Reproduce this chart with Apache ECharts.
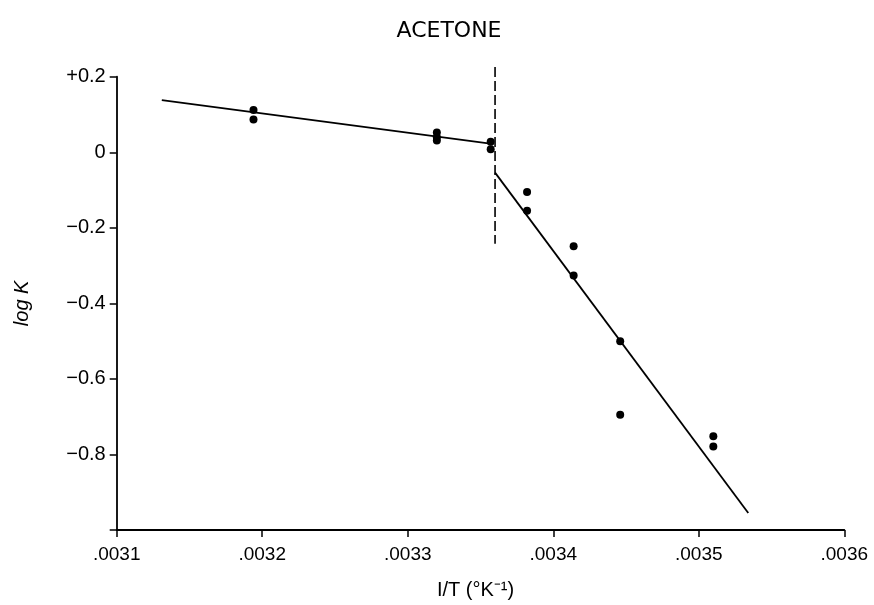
<!DOCTYPE html>
<html>
<head>
<meta charset="utf-8">
<title>ACETONE</title>
<script src="https://cdn.jsdelivr.net/npm/echarts@6/dist/echarts.min.js"></script>
<style>
  html, body { margin: 0; padding: 0; background: #fff; }
  #chart { width: 874px; height: 605px; }
</style>
</head>
<body>
<div id="chart"></div>
<script>
// Measured points: reciprocal temperature vs. log K
const invT = [0.003194, 0.003194, 0.003320, 0.003320, 0.003320, 0.003357, 0.003357,
              0.003382, 0.003382, 0.003414, 0.003414, 0.003446, 0.003446, 0.003510, 0.003510];
const logK = [0.112, 0.087, 0.052, 0.040, 0.031, 0.028, 0.008,
              -0.105, -0.155, -0.249, -0.326, -0.500, -0.695, -0.752, -0.779];

// Fitted straight lines above and below the break
const fitHigh = [[0.003131, 0.138], [0.003358, 0.022]];
const fitLow = [[0.003360, -0.054], [0.003534, -0.955]];
// Dashed marker at the break temperature
const breakLine = [[0.003360, 0.226], [0.003360, -0.242]];

// Axis tick settings
const xTicks = { min: 0.0031, max: 0.0036, step: 0.0001 };
const yTicks = { min: -1.0, max: 0.2, step: 0.2 };

const points = invT.map((x, i) => [x, logK[i]]);
const ink = '#000';
const font = 'Liberation Sans';

function yLabel(v) {
  const r = Math.round(v * 10) / 10;
  if (r <= -1) return '';
  if (r === 0) return '0';
  if (r > 0) return '+' + r.toFixed(1);
  return '\u2212' + Math.abs(r).toFixed(1);
}

const chart = echarts.init(document.getElementById('chart'), null, { renderer: 'canvas' });
chart.setOption({
  backgroundColor: '#fff',
  animation: false,
  title: {
    text: 'ACETONE',
    left: 444,
    textAlign: 'center',
    top: 15,
    textStyle: { fontFamily: 'DejaVu Sans', fontSize: 22, fontWeight: 'normal', color: ink }
  },
  grid: { left: 116.7, right: 29.7, top: 76.7, bottom: 74, containLabel: false },
  xAxis: {
    type: 'value',
    min: xTicks.min,
    max: xTicks.max,
    interval: xTicks.step,
    name: 'I/T (°K\u207B\u00B9)',
    nameLocation: 'middle',
    nameGap: 50,
    nameTextStyle: { fontFamily: font, fontSize: 20, color: ink, padding: [0, 10, 0, 0] },
    axisLine: { show: true, onZero: false, lineStyle: { color: ink, width: 1.8 } },
    axisTick: { show: true, inside: false, length: 7, lineStyle: { color: ink, width: 1.5 } },
    axisLabel: {
      margin: 15,
      fontFamily: font,
      fontSize: 19,
      color: ink,
      formatter: v => v.toFixed(4).replace(/^0/, '')
    },
    splitLine: { show: false }
  },
  yAxis: {
    type: 'value',
    min: yTicks.min,
    max: yTicks.max,
    interval: yTicks.step,
    name: 'log K',
    nameLocation: 'middle',
    nameGap: 84,
    nameRotate: 90,
    nameTextStyle: { fontFamily: font, fontSize: 20, fontStyle: 'italic', color: ink },
    axisLine: { show: true, onZero: false, lineStyle: { color: ink, width: 1.8 } },
    axisTick: { show: true, inside: false, length: 7, lineStyle: { color: ink, width: 1.5 } },
    axisLabel: { margin: 11, fontFamily: font, fontSize: 20, color: ink, formatter: yLabel },
    splitLine: { show: false }
  },
  series: [
    {
      type: 'line',
      data: fitHigh,
      showSymbol: false,
      symbol: 'none',
      lineStyle: { color: ink, width: 1.8 },
      silent: true
    },
    {
      type: 'line',
      data: fitLow,
      showSymbol: false,
      symbol: 'none',
      lineStyle: { color: ink, width: 1.8 },
      silent: true
    },
    {
      type: 'line',
      data: breakLine,
      clip: false,
      showSymbol: false,
      symbol: 'none',
      lineStyle: { color: ink, width: 1.6, type: [10, 4] },
      silent: true
    },
    {
      type: 'scatter',
      data: points,
      symbol: 'circle',
      symbolSize: 8,
      itemStyle: { color: ink, opacity: 1 },
      z: 5
    }
  ]
});
</script>
</body>
</html>
